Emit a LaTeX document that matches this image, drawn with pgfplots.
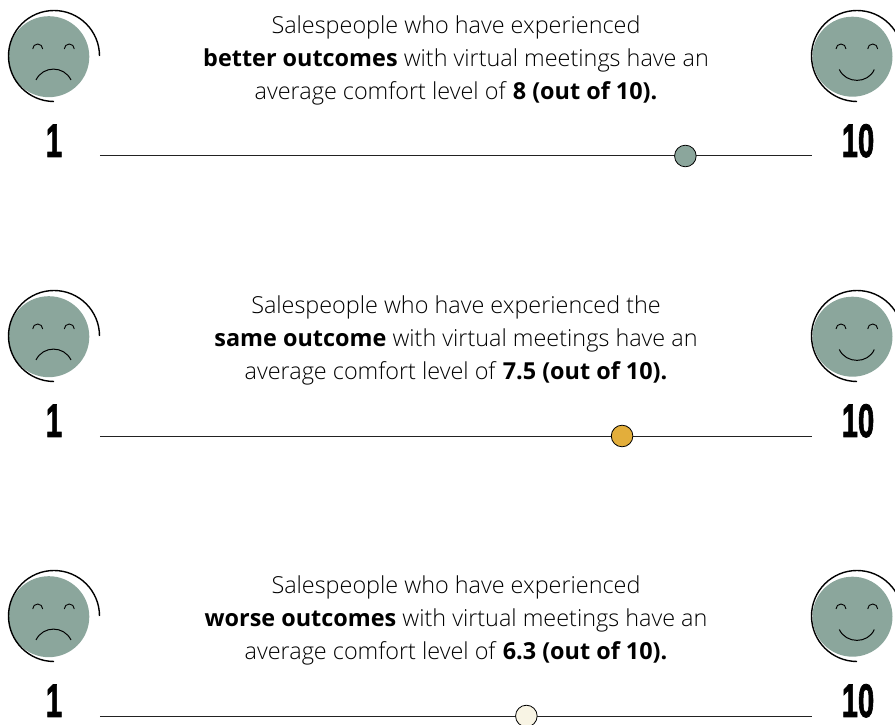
\documentclass[border=0pt]{standalone}
\usepackage{fontspec}
\setmainfont{Open Sans}[UprightFont=* Light,BoldFont=* Bold]
\newfontfamily\numfont{Liberation Sans Bold}[FakeBold=2]
\usepackage{pgfplots}
\pgfplotsset{compat=1.18}
\definecolor{sage}{HTML}{8BA69C}
\definecolor{gold}{HTML}{E3AE3B}
\definecolor{cream}{HTML}{F8F4E4}
\definecolor{rule}{HTML}{222222}

% one row: faces, end numbers, three lines of text. #1 = vertical shift in px
\newcommand{\facerow}[4]{%
\begin{scope}[yshift=-#1pt]
  % left face
  \fill[sage] (48.8,56.7) circle (40.5);
  \draw[line width=1.4pt] (99.5,56) arc[start angle=0,end angle=-270,radius=45.5];
  \draw[line width=.9pt] (32.7,49) arc[start angle=-180,end angle=0,radius=5];
  \draw[line width=.9pt] (64.3,49) arc[start angle=-180,end angle=0,radius=5];
  \draw[line width=1pt] (36,80) .. controls (43,65.5) and (64,65.5) .. (71,80);
  % right face
  \fill[sage] (852.5,56.7) circle (40);
  \draw[line width=1.4pt] (902.5,56) arc[start angle=0,end angle=-270,radius=45.5];
  \draw[line width=.9pt] (836,49) arc[start angle=-180,end angle=0,radius=5];
  \draw[line width=.9pt] (867.7,49) arc[start angle=-180,end angle=0,radius=5];
  \draw[line width=1pt] (839.3,69.5) .. controls (846,84) and (868,84) .. (874.3,69.5);
  % scale ends
  \node[anchor=base,inner sep=0pt,xscale=.62] at (54,157) {\numfont\fontsize{47}{47}\selectfont 1};
  \node[anchor=base,inner sep=0pt,xscale=.62] at (858,157) {\numfont\fontsize{47}{47}\selectfont 10};
  % text
  \node[anchor=base,inner sep=0pt] at (456,34) {\fontsize{23.4}{27}\selectfont #2};
  \node[anchor=base,inner sep=0pt] at (456,67) {\fontsize{23.4}{27}\selectfont #3};
  \node[anchor=base,inner sep=0pt] at (456,100) {\fontsize{23.4}{27}\selectfont #4};
\end{scope}}

\begin{document}
\begin{tikzpicture}
\useasboundingbox (0,0) rectangle (895pt,725pt);
\begin{axis}[
  at={(0,0)},anchor=south west,
  scale only axis,width=895pt,height=725pt,
  xmin=-0.264,xmax=11.05,
  ymin=0.4429,ymax=3.0321,y dir=reverse,
  axis lines=none,ticks=none,
  clip marker paths=true
]
% the three scales, 1 to 10
\addplot[rule,line width=1pt] coordinates {(1,1) (10,1)};
\addplot[rule,line width=1pt] coordinates {(1,2) (10,2)};
\addplot[rule,line width=1pt] coordinates {(1,3) (10,3)};
% position of the dot on each scale
\addplot[only marks,mark=*,mark size=10.8pt,mark options={fill=sage,draw=black,line width=.8pt}] coordinates {(8.40,1)};
\addplot[only marks,mark=*,mark size=10.8pt,mark options={fill=gold,draw=black,line width=.8pt}] coordinates {(7.60,2)};
\addplot[only marks,mark=*,mark size=10.8pt,mark options={fill=cream,draw=black,line width=.8pt}] coordinates {(6.39,3)};
\end{axis}
\begin{scope}[x=1pt,y=-1pt,shift={(0,-725)}]
\facerow{0}{Salespeople who have experienced}{\textbf{better outcomes} with virtual meetings have an}{average comfort level of \textbf{8 (out of 10).}}
\facerow{280}{Salespeople who have experienced the}{\textbf{same outcome} with virtual meetings have an}{average comfort level of \textbf{7.5 (out of 10).}}
\facerow{560}{Salespeople who have experienced}{\textbf{worse outcomes} with virtual meetings have an}{average comfort level of \textbf{6.3 (out of 10).}}
\end{scope}
\end{tikzpicture}
\end{document}
